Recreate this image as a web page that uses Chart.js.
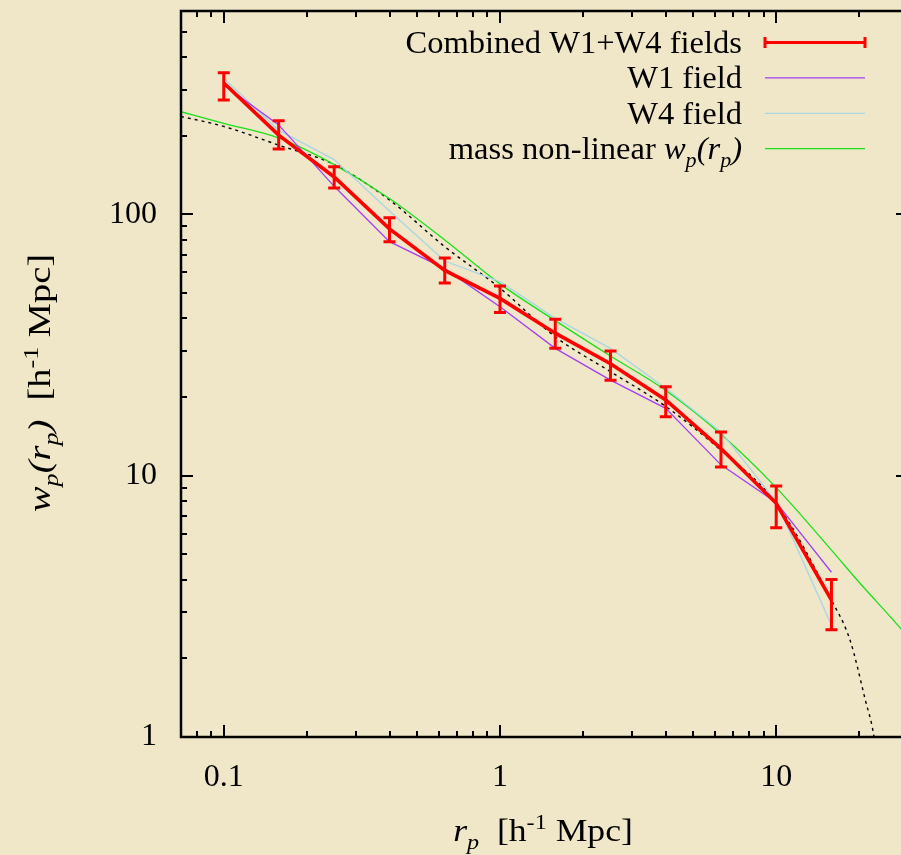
<!DOCTYPE html>
<html>
<head>
<meta charset="utf-8">
<title>projected correlation function</title>
<script src="https://cdn.jsdelivr.net/npm/chart.js@4.4.1/dist/chart.umd.min.js"></script>
<style>
  html, body { margin: 0; padding: 0; background: #f0e7c9; overflow: hidden; }
  #wrap { width: 901px; height: 855px; overflow: hidden; }
  canvas { display: block; }
</style>
</head>
<body>
<div id="wrap"><canvas id="wp" width="920" height="855"></canvas></div>
<script>
"use strict";

// projected separation bins [h^-1 Mpc]
var rp = [0.1, 0.158, 0.251, 0.398, 0.631, 1.0, 1.585, 2.512, 3.981, 6.31, 10.0, 15.85];
// combined W1+W4 with error bar limits
var wpAll = [318, 201, 139, 88, 61, 47.7, 35.1, 26.8, 19.5, 12.7, 7.84, 3.34];
var wpAllHi = [348, 228, 152, 97, 68, 53.2, 39.7, 30.0, 21.9, 14.7, 9.13, 4.01];
var wpAllLo = [274, 178, 126, 78.6, 54.6, 42.1, 30.7, 23.2, 16.8, 10.8, 6.32, 2.57];
// single fields
var wpW1 = [313, 220, 128, 78.6, 62, 44.3, 30.7, 23.2, 18.1, 11.0, 7.9, 4.27];
var wpW4 = [332, 210, 162, 103, 66.3, 55.3, 40.0, 30.7, 21.6, 14.7, 7.95, 2.68];

// mass non-linear model (green)
var rModel = [0.07, 0.1, 0.158, 0.251, 0.398, 0.631, 1, 1.585, 2.512, 3.981, 6.31, 10, 15.85, 20, 28.4, 30];
var wpModel = [247, 223, 196, 155, 115, 79.8, 54.2, 39.2, 28.7, 21.2, 14.4, 9.0, 5.19, 3.9, 2.58, 2.40];
// dotted curve
var rDot = [0.07, 0.1, 0.158, 0.251, 0.398, 0.631, 1, 1.585, 2.512, 3.981, 6.31, 10, 15.85, 18.5, 21, 22.6, 23.5];
var wpDot = [237, 217, 184, 155, 113.5, 75.2, 52.2, 34.0, 25.0, 18.4, 12.5, 7.84, 3.34, 2.35, 1.39, 1.0, 0.7];

// axis ticks
var xTicks = [0.07, 0.08, 0.09, 0.1, 0.2, 0.3, 0.4, 0.5, 0.6, 0.7, 0.8, 0.9,
  1, 2, 3, 4, 5, 6, 7, 8, 9, 10, 20, 30];
var xTickLabels = ['0.1', '1', '10'];
var yTicks = [1, 2, 3, 4, 5, 6, 7, 8, 9, 10, 20, 30, 40, 50, 60, 70, 80, 90,
  100, 200, 300, 400, 500, 600];
var yTickLabels = ['1', '10', '100'];

var SERIF = "'Liberation Serif', 'DejaVu Serif', serif";
var FS = 31;

function pairs(xs, ys) {
  return xs.map(function (x, i) { return { x: x, y: ys[i] }; });
}

function isLabelled(v, list) {
  return list.indexOf(String(v)) >= 0;
}

// draw text made of runs: {t, it, sub, sup}; hs stretches it along the baseline
function drawRuns(ctx, runs, x, y, align, hs) {
  var total = 0;
  var fontFor = function (r) {
    var size = (r.sub || r.sup) ? 21 : FS;
    return (r.it ? 'italic ' : '') + size + 'px ' + SERIF;
  };
  runs.forEach(function (r) {
    ctx.font = fontFor(r);
    r.w = ctx.measureText(r.t).width;
    total += r.w;
  });
  var sx = align === 'right' ? -total : (align === 'center' ? -total / 2 : 0);
  ctx.save();
  ctx.translate(x, y);
  ctx.scale(hs || 1, 1);
  ctx.textAlign = 'left';
  ctx.textBaseline = 'alphabetic';
  runs.forEach(function (r) {
    ctx.font = fontFor(r);
    ctx.fillText(r.t, sx, r.sub ? 8 : (r.sup ? -12 : 0));
    sx += r.w;
  });
  ctx.restore();
}

var background = {
  id: 'background',
  beforeDraw: function (chart) {
    var ctx = chart.ctx;
    ctx.save();
    ctx.fillStyle = '#f0e7c9';
    ctx.fillRect(0, 0, chart.width, chart.height);
    ctx.restore();
  }
};

var errorBars = {
  id: 'errorBars',
  afterDatasetsDraw: function (chart) {
    var ctx = chart.ctx;
    var xs = chart.scales.x, ys = chart.scales.y;
    ctx.save();
    ctx.strokeStyle = '#ff0000';
    ctx.lineWidth = 3;
    ctx.beginPath();
    rp.forEach(function (r, i) {
      var px = xs.getPixelForValue(r);
      var top = ys.getPixelForValue(wpAllHi[i]);
      var bot = ys.getPixelForValue(wpAllLo[i]);
      ctx.moveTo(px, top); ctx.lineTo(px, bot);
      ctx.moveTo(px - 6, top); ctx.lineTo(px + 6, top);
      ctx.moveTo(px - 6, bot); ctx.lineTo(px + 6, bot);
    });
    ctx.stroke();
    ctx.restore();
  }
};

// gnuplot-like frame with inward ticks on all four sides
var frame = {
  id: 'frame',
  afterDatasetsDraw: function (chart) {
    var ctx = chart.ctx, a = chart.chartArea;
    var xs = chart.scales.x, ys = chart.scales.y;
    ctx.save();
    ctx.strokeStyle = '#000';
    ctx.lineWidth = 2;
    ctx.beginPath();
    xTicks.forEach(function (v) {
      var px = Math.round(xs.getPixelForValue(v));
      var len = isLabelled(v, xTickLabels) ? 12 : 6;
      ctx.moveTo(px, a.bottom); ctx.lineTo(px, a.bottom - len);
      ctx.moveTo(px, a.top); ctx.lineTo(px, a.top + len);
    });
    yTicks.forEach(function (v) {
      var py = Math.round(ys.getPixelForValue(v));
      var len = isLabelled(v, yTickLabels) ? 12 : 6;
      ctx.moveTo(a.left, py); ctx.lineTo(a.left + len, py);
      ctx.moveTo(a.right, py); ctx.lineTo(a.right - len, py);
    });
    ctx.stroke();
    ctx.lineWidth = 2.5;
    ctx.strokeRect(a.left, a.top, a.right - a.left, a.bottom - a.top);
    ctx.restore();
  }
};

var labels = {
  id: 'labels',
  afterDraw: function (chart) {
    var ctx = chart.ctx;
    var ds = chart.data.datasets;
    ctx.save();
    ctx.fillStyle = '#000';

    // legend, text right aligned with the sample to its right
    var textRight = 742;
    var x0 = 765, x1 = 865;
    var rows = [
      { runs: [{ t: 'Combined W1+W4 fields' }], ds: ds[0], caps: true },
      { runs: [{ t: 'W1 field' }], ds: ds[1] },
      { runs: [{ t: 'W4 field' }], ds: ds[2] },
      { runs: [{ t: 'mass non-linear ' }, { t: 'w', it: true }, { t: 'p', it: true, sub: true },
        { t: '(', it: true }, { t: 'r', it: true }, { t: 'p', it: true, sub: true }, { t: ')', it: true }], ds: ds[3] }
    ];
    rows.forEach(function (row, i) {
      var base = 53 + i * 35.4;
      var ly = base - 10.5;
      drawRuns(ctx, row.runs, textRight, base, 'right', 1.05);
      ctx.strokeStyle = row.ds.borderColor;
      ctx.lineWidth = row.caps ? 3 : row.ds.borderWidth;
      ctx.beginPath();
      ctx.moveTo(x0, ly); ctx.lineTo(x1, ly);
      if (row.caps) {
        ctx.moveTo(x0, ly - 5.5); ctx.lineTo(x0, ly + 5.5);
        ctx.moveTo(x1, ly - 5.5); ctx.lineTo(x1, ly + 5.5);
      }
      ctx.stroke();
    });

    // x axis title
    drawRuns(ctx, [{ t: 'r', it: true }, { t: 'p', it: true, sub: true }, { t: '  [h' },
      { t: '-1', sup: true }, { t: ' Mpc]' }], 543, 841, 'center', 1.15);

    // y axis title, rotated
    ctx.translate(50, 383);
    ctx.rotate(-Math.PI / 2);
    drawRuns(ctx, [{ t: 'w', it: true }, { t: 'p', it: true, sub: true }, { t: '(', it: true },
      { t: 'r', it: true }, { t: 'p', it: true, sub: true }, { t: ')', it: true },
      { t: '  [h' }, { t: '-1', sup: true }, { t: ' Mpc]' }], 0, 0, 'center', 1.24);
    ctx.restore();
  }
};

var chart = new Chart(document.getElementById('wp'), {
  type: 'line',
  data: {
    datasets: [
      {
        label: 'Combined W1+W4 fields',
        data: pairs(rp, wpAll),
        borderColor: '#ff0000',
        borderWidth: 3.6,
        pointRadius: 0,
        tension: 0
      },
      {
        label: 'W1 field',
        data: pairs(rp, wpW1),
        borderColor: '#a23ff0',
        borderWidth: 1.3,
        pointRadius: 0,
        tension: 0
      },
      {
        label: 'W4 field',
        data: pairs(rp, wpW4),
        borderColor: '#a9d6e4',
        borderWidth: 1.3,
        pointRadius: 0,
        tension: 0
      },
      {
        label: 'mass non-linear',
        data: pairs(rModel, wpModel),
        borderColor: '#19e019',
        borderWidth: 1.3,
        pointRadius: 0,
        cubicInterpolationMode: 'monotone'
      },
      {
        label: '',
        data: pairs(rDot, wpDot),
        borderColor: '#000000',
        borderWidth: 1.4,
        borderDash: [3, 4],
        pointRadius: 0,
        cubicInterpolationMode: 'monotone'
      }
    ]
  },
  options: {
    responsive: false,
    animation: false,
    layout: { padding: { left: 0, right: 12, top: 11, bottom: 0 } },
    plugins: {
      legend: { display: false },
      tooltip: { enabled: false }
    },
    scales: {
      x: {
        type: 'logarithmic',
        position: 'bottom',
        min: 0.07,
        max: 30,
        grid: { display: false, drawTicks: false },
        border: { display: false },
        afterBuildTicks: function (scale) {
          scale.ticks = xTicks.map(function (v) { return { value: v }; });
        },
        afterFit: function (scale) {
          scale.height = 118;
          scale.paddingLeft = 0;
          scale.paddingRight = 0;
        },
        ticks: {
          autoSkip: false,
          maxRotation: 0,
          padding: 21,
          color: '#000',
          font: { family: SERIF, size: 32 },
          callback: function (v) {
            return isLabelled(v, xTickLabels) ? String(v) : '';
          }
        }
      },
      y: {
        type: 'logarithmic',
        position: 'left',
        min: 1,
        max: 600,
        grid: { display: false, drawTicks: false },
        border: { display: false },
        afterBuildTicks: function (scale) {
          scale.ticks = yTicks.map(function (v) { return { value: v }; });
        },
        afterFit: function (scale) {
          scale.width = 181;
          scale.paddingTop = 0;
          scale.paddingBottom = 0;
        },
        ticks: {
          autoSkip: false,
          padding: 24,
          color: '#000',
          font: { family: SERIF, size: 32 },
          callback: function (v) {
            return isLabelled(v, yTickLabels) ? String(v) : '';
          }
        }
      }
    }
  },
  plugins: [background, errorBars, frame, labels]
});
</script>
</body>
</html>
